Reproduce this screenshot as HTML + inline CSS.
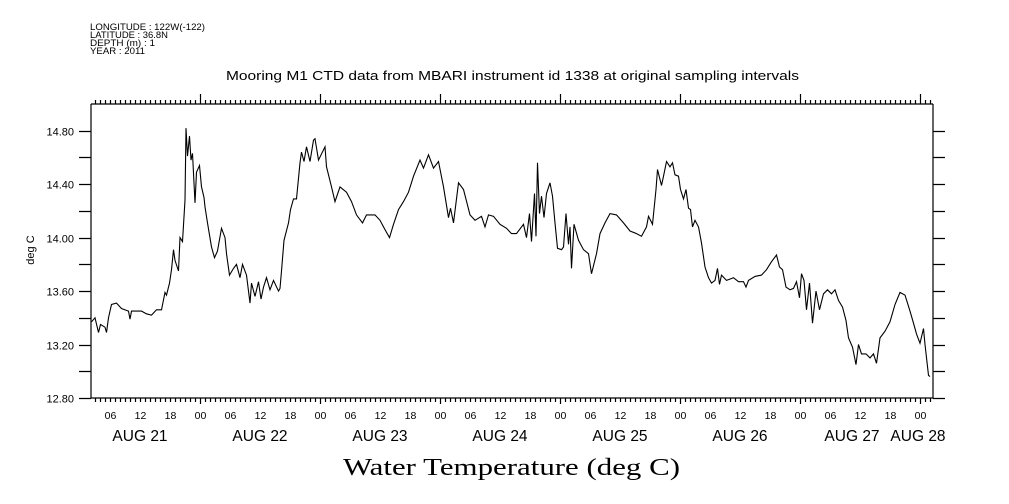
<!DOCTYPE html>
<html><head><meta charset="utf-8"><style>
html,body{margin:0;padding:0;background:#fff;}
svg{display:block;}
text{font-family:"Liberation Sans",sans-serif;fill:#000;}
</style></head><body>
<svg id="chart" width="1009" height="504" viewBox="0 0 1009 504" xmlns="http://www.w3.org/2000/svg">
<g font-size="9">
<text x="90" y="30" textLength="115" lengthAdjust="spacingAndGlyphs">LONGITUDE : 122W(-122)</text>
<text x="90" y="38" textLength="78" lengthAdjust="spacingAndGlyphs">LATITUDE : 36.8N</text>
<text x="90" y="46" textLength="65" lengthAdjust="spacingAndGlyphs">DEPTH (m) : 1</text>
<text x="90" y="54" textLength="55" lengthAdjust="spacingAndGlyphs">YEAR : 2011</text>
</g>
<text x="226" y="80" textLength="573" lengthAdjust="spacingAndGlyphs" font-size="13">Mooring M1 CTD data from MBARI instrument id 1338 at original sampling intervals</text>
<text x="34" y="250" text-anchor="middle" font-size="11" transform="rotate(-90 34 250)">deg C</text>
<text x="343" y="475" textLength="337" lengthAdjust="spacingAndGlyphs" font-size="24" style="font-family:'Liberation Serif',serif">Water Temperature (deg C)</text>
<g id="axes"></g>
<g id="plot"></g>
</svg>
<script>
const hours=[2.3,3.0,3.7,4.1,5.0,5.3,5.7,6.3,7.3,8.3,9.7,10.0,10.3,12.3,13.3,14.3,15.3,16.3,17.0,17.3,17.9,18.3,18.7,19.0,19.7,20.0,20.5,21.0,21.2,21.5,21.9,22.2,22.5,23.0,23.3,23.9,24.3,24.8,25.0,25.5,26.3,26.9,27.5,28.3,29.0,29.3,29.9,30.7,31.3,32.0,32.5,33.3,34.0,34.3,35.0,35.7,36.2,36.7,37.3,38.0,38.7,39.7,40.0,40.3,40.8,41.7,42.1,42.7,43.3,44.0,44.3,44.8,45.3,46.0,46.7,47.0,47.7,49.0,49.3,50.3,51.0,52.0,53.3,54.3,55.3,56.5,57.3,59.0,60.0,61.0,61.9,62.7,63.7,64.7,65.7,66.7,68.0,68.7,69.7,70.7,71.7,72.7,73.7,74.1,74.7,75.7,76.7,78.0,79.0,80.3,81.0,81.7,82.7,84.0,85.3,86.3,87.3,88.7,89.3,89.9,90.3,90.9,91.2,91.5,91.9,92.3,92.8,93.3,94.0,94.5,95.0,95.5,96.3,96.7,97.2,97.7,98.0,98.3,98.8,99.7,100.7,101.7,102.3,103.3,104.0,105.0,106.0,107.3,108.7,110.0,111.3,112.3,113.3,113.7,114.5,115.2,115.5,116.3,116.7,117.3,118.0,118.5,119.0,119.7,120.1,120.7,121.2,121.7,122.1,122.5,123.0,123.7,124.3,125.0,125.7,126.3,127.0,127.5,127.9,128.3,129.3,130.7,131.7,132.7,133.2,133.7,135.0,136.3,137.3,138.3,139.3,139.9,140.5,141.2,142.0,142.7,143.3,143.9,144.3,144.8,145.3,145.9,146.5,147.2,147.9,148.7,149.5,150.3,151.0,151.7,152.5,153.2,153.7,154.5,155.2,155.7,156.3,157.2,158.0,158.7,159.3,160.0,161.0,162.0,163.0,164.0,165.0,166.0,166.7,167.3,168.0,168.7,169.0,169.7,170.0];
const temps=[13.37,13.40,13.29,13.35,13.33,13.29,13.40,13.50,13.51,13.47,13.45,13.39,13.45,13.45,13.43,13.42,13.46,13.46,13.59,13.57,13.66,13.76,13.91,13.83,13.75,14.00,13.97,14.28,14.82,14.61,14.76,14.58,14.63,14.26,14.49,14.54,14.38,14.30,14.23,14.11,13.93,13.85,13.90,14.07,14.00,13.88,13.72,13.77,13.80,13.70,13.80,13.72,13.51,13.66,13.56,13.67,13.54,13.63,13.70,13.61,13.68,13.60,13.62,13.75,13.98,14.11,14.21,14.29,14.29,14.56,14.64,14.57,14.68,14.57,14.73,14.74,14.58,14.68,14.53,14.38,14.27,14.38,14.34,14.27,14.17,14.11,14.17,14.17,14.13,14.06,14.00,14.10,14.21,14.27,14.34,14.46,14.58,14.52,14.62,14.52,14.57,14.38,14.15,14.22,14.11,14.41,14.36,14.17,14.13,14.16,14.08,14.17,14.16,14.10,14.07,14.03,14.03,14.10,14.00,14.18,13.97,14.33,14.01,14.56,14.18,14.31,14.15,14.33,14.41,14.31,14.11,13.92,13.91,13.93,14.18,13.95,14.08,13.77,14.10,13.98,13.91,13.88,13.73,13.88,14.03,14.11,14.18,14.17,14.11,14.05,14.03,14.01,14.08,14.16,14.10,14.36,14.51,14.39,14.46,14.57,14.53,14.56,14.47,14.46,14.36,14.29,14.36,14.22,14.21,14.08,14.13,14.08,13.96,13.78,13.70,13.66,13.68,13.77,13.65,13.72,13.68,13.70,13.67,13.67,13.63,13.68,13.71,13.72,13.76,13.82,13.87,13.78,13.76,13.63,13.61,13.62,13.67,13.55,13.73,13.68,13.46,13.66,13.36,13.60,13.46,13.58,13.61,13.58,13.61,13.53,13.48,13.38,13.25,13.18,13.05,13.20,13.13,13.13,13.10,13.13,13.06,13.25,13.30,13.37,13.50,13.59,13.57,13.45,13.36,13.28,13.21,13.32,13.20,12.97,12.96];
const yTicks=[12.8,13.0,13.2,13.4,13.6,13.8,14.0,14.2,14.4,14.6,14.8];
const yTickLabels=["12.80","","13.20","","13.60","","14.00","","14.40","","14.80"];
const dayLabels=["AUG 21","AUG 22","AUG 23","AUG 24","AUG 25","AUG 26","AUG 27","AUG 28"];
const hourLabels=["00","06","12","18"];

const L=91,R=933,T=104,B=398,X0=80,PXH=5,YMIN=12.8,YMAX=15.0;
const xs=h=>X0+h*PXH;
const ys=v=>B-(v-YMIN)/(YMAX-YMIN)*(B-T);
const NS="http://www.w3.org/2000/svg";
const axes=document.getElementById('axes'),plot=document.getElementById('plot');
function mk(tag,attrs,parent){const e=document.createElementNS(NS,tag);for(const k in attrs)e.setAttribute(k,attrs[k]);parent.appendChild(e);return e;}
let d='';
function ln(x1,y1,x2,y2){d+=`M${x1},${y1}L${x2},${y2}`;}
ln(L,T,R,T);ln(L,B,R,B);ln(L,T,L,B);ln(R,T,R,B);
for(let h=0;h<=172;h++){const x=xs(h)+0.5;if(x<L||x>R)continue;const maj=h%24===0;
 ln(x,T,x,T-(maj?10:4));ln(x,B,x,B+(maj?6:4));
 if(h%6===0){const t=mk('text',{x:x,y:419,'text-anchor':'middle','font-size':'10.5'},axes);
 
 
 t.textContent=hourLabels[(h%24)/6];}}
dayLabels.forEach((lab,i)=>{let x=xs(i*24+12);if(i===6)x=852;if(i===7)x=918;
 const t=mk('text',{x:x,y:441,'text-anchor':'middle','font-size':'15.5'},axes);
 
 
 t.textContent=lab;});
yTicks.forEach((v,i)=>{const y=Math.round(ys(v))+0.5;ln(L-12,y,L,y);ln(R,y,R+12,y);
 if(yTickLabels[i]){const t=mk('text',{x:74,y:y+4,'text-anchor':'end','font-size':'11'},axes);
 
 
 t.textContent=yTickLabels[i];}});
const ap=mk('path',{d:d,stroke:'#000','stroke-width':1.2,fill:'none'},axes);


const pd=hours.map((h,i)=>(i?'L':'M')+xs(h).toFixed(1)+','+ys(temps[i]).toFixed(1)).join('');
const line=mk('path',{d:pd,stroke:'#000','stroke-width':1.1,fill:'none'},plot);


</script>
</body></html>
